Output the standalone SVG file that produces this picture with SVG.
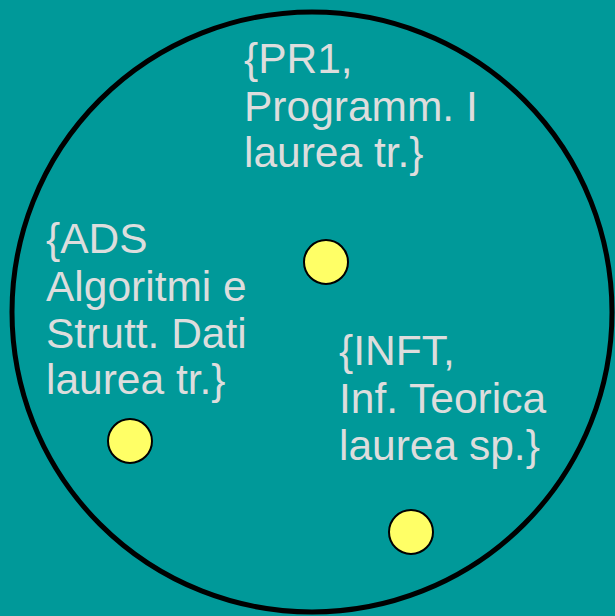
<svg xmlns="http://www.w3.org/2000/svg" width="615" height="616" viewBox="0 0 615 616">
<style>
.t{font-family:"Liberation Sans",Arial,sans-serif;font-size:42.5px;fill:#dddddd}
.dot{fill:#ffff66;stroke:#000;stroke-width:2}
</style>
<rect width="615" height="616" fill="#009999"/>
<circle cx="312" cy="312" r="300" fill="none" stroke="#000" stroke-width="5"/>
<g id="pr1">
<text class="t" x="244"><tspan x="244" y="73">{PR1,</tspan><tspan x="244" y="121">Programm. I</tspan><tspan x="244" y="167">laurea tr.}</tspan></text>
<circle class="dot" cx="326" cy="262" r="22"/>
</g>
<g id="ads">
<text class="t" x="46"><tspan x="46" y="253">{ADS</tspan><tspan x="46" y="301">Algoritmi e</tspan><tspan x="46" y="348">Strutt. Dati</tspan><tspan x="46" y="394">laurea tr.}</tspan></text>
<circle class="dot" cx="130" cy="441" r="22"/>
</g>
<g id="inft">
<text class="t" x="339"><tspan x="339" y="365">{INFT,</tspan><tspan x="339" y="413">Inf. Teorica</tspan><tspan x="339" y="460">laurea sp.}</tspan></text>
<circle class="dot" cx="411" cy="532" r="22"/>
</g>
<g id="connectors"/>
</svg>
